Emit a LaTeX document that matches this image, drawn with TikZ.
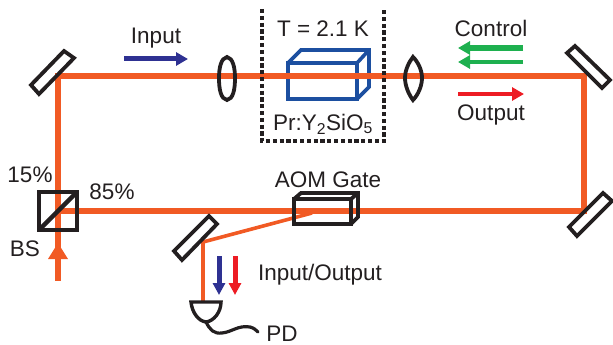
\documentclass[tikz,border=0pt]{standalone}
\usepackage{fontspec}
\setmainfont{Liberation Sans}
\usetikzlibrary{arrows.meta}
\definecolor{beam}{HTML}{F15A24}
\definecolor{ink}{HTML}{231F20}
\definecolor{cryst}{HTML}{1C4FA0}
\definecolor{inblue}{HTML}{2E3192}
\definecolor{ctrl}{HTML}{1EB04F}
\definecolor{outred}{HTML}{ED1C24}
\tikzset{
  x=1pt,y=-1pt,
  lab/.style={font=\fontsize{22.5}{25}\selectfont,text=ink,inner sep=0pt},
  mainbeam/.style={draw=beam,line width=6pt},
  thinbeam/.style={draw=beam,line width=3.6pt},
  optic/.style={draw=ink,line width=3.8pt,line join=miter},
  lensl/.style={draw=ink,line width=3.8pt},
  cryo/.style={draw=ink,line width=4.4pt,dash pattern=on 4.2pt off 2.6pt},
  crystal/.style={draw=cryst,line width=3.6pt,line join=miter},
}
\begin{document}
\begin{tikzpicture}
\useasboundingbox (0,0) rectangle (613,345);
% beam corners
\coordinate (tl) at (58,76);
\coordinate (tr) at (584,76);
\coordinate (br) at (584,211);
\coordinate (bs) at (58,211);
\coordinate (src) at (58,281);
\coordinate (aomc) at (312,213);
\coordinate (pick) at (203,242);
\coordinate (pdt) at (203,302);
% thin beams
\draw[thinbeam,line join=miter] (aomc) -- (pick) -- (pdt);
% main beam
\draw[mainbeam,line join=miter] (bs) -- (tl) -- (tr) -- (br) -- cycle;
\draw[mainbeam] (bs) -- (src);
\fill[beam] (58,243) -- (68,259) -- (48,259) -- cycle;
% crystal
\draw[crystal] (288,63) rectangle (357,99);
\draw[crystal] (288,63) -- (301,50) -- (369,50) -- (369,87) -- (357,99);
\draw[crystal] (357,63) -- (369,50);
\draw[mainbeam] (230,76) -- (400,76);
% cryostat
\draw[cryo] (262,9) -- (262,141) -- (384,141) -- (384,9);
% lenses
\draw[lensl] (227,57) .. controls (221,58) and (219,68) .. (219,78) .. controls (219,90) and (221,99) .. (227,100) .. controls (233,99) and (235,90) .. (235,78) .. controls (235,68) and (233,58) .. (227,57) -- cycle;
\draw[lensl] (413,57) .. controls (409,62) and (405,70) .. (405,78) .. controls (405,86) and (409,95) .. (413,100) .. controls (418,95) and (422,86) .. (422,78) .. controls (422,70) and (418,62) .. (413,57) -- cycle;
% mirrors
\draw[optic] (64,51) -- (74,58) -- (39,94) -- (31,85) -- cycle;
\draw[optic] (575,46) -- (610,80) -- (602,88) -- (567,53) -- cycle;
\draw[optic] (603,193) -- (612,201) -- (577,236) -- (569,227) -- cycle;
\draw[optic] (209,216) -- (217,224) -- (182,260) -- (174,251) -- cycle;
% beam splitter
\draw[optic,line width=4.4pt] (39,192) rectangle (77,230);
\draw[optic,line width=4.4pt] (77,192) -- (39,230);
% AOM
\draw[optic] (294,199) rectangle (351,224);
\draw[optic] (294,199) -- (301,193) -- (358,193) -- (358,217) -- (351,224);
\draw[optic] (351,199) -- (358,193);
% photodiode
\draw[optic,line width=3.4pt] (191,302) -- (221,302) .. controls (221,312) and (214,321) .. (206,322) .. controls (198,321) and (192,312) .. (191,302) -- cycle;
\draw[optic,line width=3.2pt,line cap=round] (206,322) .. controls (210,330) and (214,334) .. (222,333) .. controls (232,332) and (238,325) .. (250,327) .. controls (254,328) and (256,330) .. (258,332);
% signal arrows
\draw[draw=inblue,line width=5pt,-{Triangle[length=12pt,width=13pt]}] (124,59) -- (188,59);
\draw[draw=ctrl,line width=5.5pt,-{Triangle[length=12pt,width=13pt]}] (523,48) -- (458,48);
\draw[draw=ctrl,line width=4pt,-{Triangle[length=12pt,width=13pt]}] (523,62) -- (458,62);
\draw[draw=outred,line width=3.5pt,-{Triangle[length=12pt,width=13pt]}] (458,94) -- (524,94);
\draw[draw=inblue,line width=5pt,-{Triangle[length=12pt,width=12pt]}] (219,256) -- (219,295);
\draw[draw=outred,line width=5pt,-{Triangle[length=12pt,width=12pt]}] (235,256) -- (235,295);
% labels
\node[lab] (linput) at (156,38) {Input};
\node[lab] (ltemp) at (323,29) {T = 2.1 K};
\node[lab] (lcrys) at (323,124) {Pr:Y\textsubscript{2}SiO\textsubscript{5}};
\node[lab] (lctrl) at (491,28) {Control};
\node[lab] (lout) at (491,115) {Output};
\node[lab] (l15) at (30,175) {15\%};
\node[lab] (l85) at (112,192) {85\%};
\node[lab] (lbs) at (25,249) {BS};
\node[lab] (laom) at (328,180) {AOM Gate};
\node[lab] (lio) at (320,275) {Input/Output};
\node[lab] (lpd) at (282,334) {PD};
\end{tikzpicture}
\end{document}
